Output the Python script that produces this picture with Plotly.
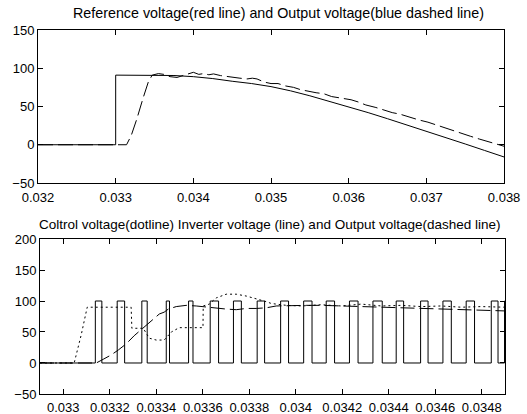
import plotly.graph_objects as go

# ---------------- Top plot data ----------------
ref_t = [0.032, 0.033, 0.033, 0.0335, 0.03375, 0.034, 0.03425, 0.0345, 0.03475, 0.035, 0.03525, 0.0355,
         0.03575, 0.036, 0.03625, 0.0365, 0.03675, 0.037, 0.03725, 0.0375, 0.03775, 0.038]
ref_v = [0, 0, 91, 91, 90.5, 89, 86.5, 83, 80, 76, 70.5, 64,
         57, 50, 42, 34, 26, 18, 9.5, 1, -7.5, -16]

out1_t = [0.032, 0.03314, 0.0332, 0.03327, 0.033356, 0.03342, 0.03347, 0.03355, 0.03362, 0.0337,
          0.03379, 0.03385, 0.03392, 0.034, 0.03407, 0.03413, 0.0342, 0.03426, 0.03435, 0.03443,
          0.03452, 0.0346, 0.03469, 0.03476, 0.03482, 0.03491, 0.035, 0.03509, 0.03518, 0.03529,
          0.03538, 0.03547, 0.03558, 0.03568, 0.03578, 0.0359, 0.03603, 0.03612, 0.03622, 0.03635,
          0.03646, 0.03656, 0.03666, 0.03678, 0.0369, 0.03702, 0.03712, 0.03724, 0.03735, 0.03746,
          0.03757, 0.03768, 0.03779, 0.0379, 0.038]
out1_v = [0, 0, 12, 33, 62, 82, 91, 93, 92, 89,
          88, 90, 92.6, 94.7, 92, 93, 91.5, 92.6, 90.4, 89,
          88, 87, 86, 87, 86, 82, 80, 80, 77, 75,
          72, 70, 68, 66.7, 63, 61, 58.8, 56, 52, 48.7,
          45, 42, 40, 36, 32.5, 29.5, 26, 22, 18, 14.5,
          11, 7.5, 4, 1, -2]

top_xticks = [0.032, 0.033, 0.034, 0.035, 0.036, 0.037, 0.038]
top_xtext = ["0.032", "0.033", "0.034", "0.035", "0.036", "0.037", "0.038"]
top_yticks = [-50, 0, 50, 100, 150]

# ---------------- Bottom plot data ----------------
ctrl_t = [0.0329, 0.033047, 0.033077, 0.033103, 0.033292, 0.033295, 0.033344, 0.03337, 0.0334, 0.033434,
          0.033465, 0.033499, 0.033601, 0.033602, 0.033628, 0.033658, 0.033701, 0.033744, 0.033787, 0.03383,
          0.033873, 0.033895, 0.033959, 0.034024, 0.03411, 0.034196, 0.034282, 0.034368, 0.034454, 0.03454,
          0.034626, 0.034712, 0.034798, 0.0349]
ctrl_v = [0, 0, 45, 90, 90, 56, 56, 40, 37, 37,
          50, 57, 57, 92, 95, 105, 111, 111, 108, 104,
          99, 96, 93, 92, 94, 92, 95, 92, 93, 91,
          92, 90, 91, 90]

inv_rise = [0.033138, 0.033232, 0.033338, 0.033443, 0.033539, 0.033632, 0.033732, 0.033834, 0.033935, 0.034034,
            0.034131, 0.034231, 0.034332, 0.034432, 0.034537, 0.034633, 0.034733, 0.034841, 0.034898]
inv_fall = [0.033166, 0.033264, 0.033361, 0.033457, 0.033558, 0.033668, 0.033766, 0.033866, 0.033969, 0.03407,
            0.034167, 0.034268, 0.034372, 0.034464, 0.034569, 0.034669, 0.034769, 0.03487, 0.0349]
inv_high = 100
inv_low = 0

out2_t = [0.0329, 0.033142, 0.033172, 0.033206, 0.033237, 0.033271, 0.033305, 0.033348, 0.033378, 0.033413,
          0.033434, 0.033452, 0.033486, 0.033529, 0.033572, 0.033615, 0.033658, 0.033701, 0.033744, 0.033787,
          0.03383, 0.033873, 0.033916, 0.033981, 0.034045, 0.03411, 0.034196, 0.034282, 0.034368, 0.034454,
          0.03454, 0.034626, 0.034712, 0.034798, 0.034862, 0.0349]
out2_v = [0, 0, 6, 13, 21, 31, 44, 58, 68, 79,
          82, 87, 91, 93, 92, 90, 88, 87, 86, 88,
          88, 89, 92, 93, 93, 93, 92, 92, 91, 90,
          88, 88, 87, 86, 85, 84]

bot_xticks = [0.033, 0.0332, 0.0334, 0.0336, 0.0338, 0.034, 0.0342, 0.0344, 0.0346, 0.0348]
bot_xtext = ["0.033", "0.0332", "0.0334", "0.0336", "0.0338", "0.034", "0.0342", "0.0344", "0.0346", "0.0348"]
bot_yticks = [-50, 0, 50, 100, 150, 200]

top_title = "Reference voltage(red line) and Output voltage(blue dashed line)"
bot_title = "Coltrol voltage(dotline) Inverter voltage (line) and Output voltage(dashed line)"

# build inverter step waveform
inv_t = [0.0329]
inv_v = [inv_low]
for r, f in zip(inv_rise, inv_fall):
    inv_t += [r, r, f, f]
    inv_v += [inv_low, inv_high, inv_high, inv_low]

FONT = "Liberation Sans, Arial, sans-serif"
fig = go.Figure()

fig.add_trace(go.Scatter(x=ref_t, y=ref_v, mode="lines", line=dict(color="black", width=1),
                         xaxis="x", yaxis="y", showlegend=False))
fig.add_trace(go.Scatter(x=out1_t, y=out1_v, mode="lines", line=dict(color="black", width=1, dash="15px,5px"),
                         xaxis="x", yaxis="y", showlegend=False))

fig.add_trace(go.Scatter(x=inv_t, y=inv_v, mode="lines", line=dict(color="black", width=1),
                         xaxis="x2", yaxis="y2", showlegend=False))
fig.add_trace(go.Scatter(x=out2_t, y=out2_v, mode="lines", line=dict(color="black", width=1, dash="14px,5px"),
                         xaxis="x2", yaxis="y2", showlegend=False))
fig.add_trace(go.Scatter(x=ctrl_t, y=ctrl_v, mode="lines", line=dict(color="black", width=1, dash="2px,3px"),
                         xaxis="x2", yaxis="y2", showlegend=False))

axis_style = dict(showline=True, linecolor="black", linewidth=1, mirror="ticks", ticks="inside",
                  ticklen=5, tickcolor="black", showgrid=False, zeroline=False, automargin=False,
                  tickfont=dict(family=FONT, size=13, color="black"))

fig.update_layout(
    width=527, height=414,
    margin=dict(l=38, r=22, t=30, b=20),
    paper_bgcolor="white", plot_bgcolor="white",
    font=dict(family=FONT, color="black"),
    xaxis=dict(domain=[0, 0.998], range=[0.032, 0.038], tickvals=top_xticks, ticktext=top_xtext,
               anchor="y", ticklabelstandoff=2, **axis_style),
    yaxis=dict(domain=[0.5797, 1.0], range=[-50, 150], tickvals=top_yticks, anchor="x", **axis_style),
    xaxis2=dict(domain=[0.0043, 1.0], range=[0.0329, 0.0349], tickvals=bot_xticks, ticktext=bot_xtext,
                anchor="y2", ticklabelstandoff=1, **axis_style),
    yaxis2=dict(domain=[0, 0.4258], range=[-50, 200], tickvals=bot_yticks, anchor="x2", **axis_style),
    annotations=[
        dict(text=top_title, x=0.515, y=1.0467, xref="paper", yref="paper", showarrow=False,
             xanchor="center", yanchor="middle", font=dict(family=FONT, size=14.3, color="black")),
        dict(text=bot_title, x=0.497, y=0.4643, xref="paper", yref="paper", showarrow=False,
             xanchor="center", yanchor="middle", font=dict(family=FONT, size=13.5, color="black")),
    ],
)

fig.write_html("out.html")
